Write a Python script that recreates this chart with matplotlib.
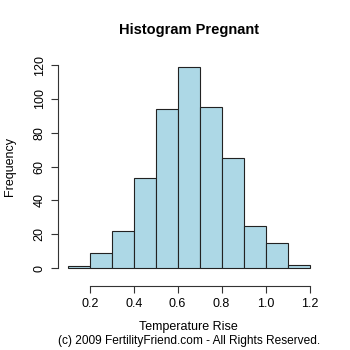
import numpy as np
import matplotlib.pyplot as plt

plt.rcParams['font.family'] = ['Liberation Sans', 'DejaVu Sans']

# histogram bins and counts
bin_edges = [0.1, 0.2, 0.3, 0.4, 0.5, 0.6, 0.7, 0.8, 0.9, 1.0, 1.1, 1.2]
counts = [1, 9, 22, 53, 94, 119, 95, 65, 25, 15, 2]
x_ticks = [0.2, 0.4, 0.6, 0.8, 1.0, 1.2]
x_tick_labels = ['0.2', '0.4', '0.6', '0.8', '1.0', '1.2']
y_ticks = [0, 20, 40, 60, 80, 100, 120]

fig = plt.figure(figsize=(3.5, 3.5), dpi=100)
ax = fig.add_axes([0.166, 0.211, 0.746, 0.626])

lefts = np.array(bin_edges[:-1])
widths = np.diff(bin_edges)
ax.bar(lefts, counts, width=widths, align='edge', color='#ADD8E6',
       edgecolor='#222222', linewidth=0.8)

ax.set_xlim(0.056, 1.244)
ax.set_ylim(-4.8, 124.8)

for s in ['top', 'right']:
    ax.spines[s].set_visible(False)
ax.spines['left'].set_bounds(0, 120)
ax.spines['bottom'].set_bounds(0.2, 1.2)
ax.spines['bottom'].set_position(('outward', 7))
for s in ['left', 'bottom']:
    ax.spines[s].set_color('#333333')
    ax.spines[s].set_linewidth(0.8)

ax.set_xticks(x_ticks)
ax.set_xticklabels(x_tick_labels)
ax.set_yticks(y_ticks)
ax.set_yticklabels([str(v) for v in y_ticks], rotation=90, va='center')
ax.tick_params(axis='both', length=5, width=0.8, color='#333333',
               labelsize=9, pad=4)

cx = 0.166 + 0.746 / 2
fig.text(0.029, 0.524, 'Frequency', rotation=90, ha='center', va='center', fontsize=9)
fig.text(cx, 0.066, 'Temperature Rise', ha='center', va='center', fontsize=9)
fig.text(cx, 0.026, '(c) 2009 FertilityFriend.com - All Rights Reserved.',
         ha='center', va='center', fontsize=8.6)
fig.text(cx, 0.914, 'Histogram Pregnant', ha='center', va='center',
         fontsize=10.5, fontweight='bold')

fig.savefig('out.png', dpi=100)
